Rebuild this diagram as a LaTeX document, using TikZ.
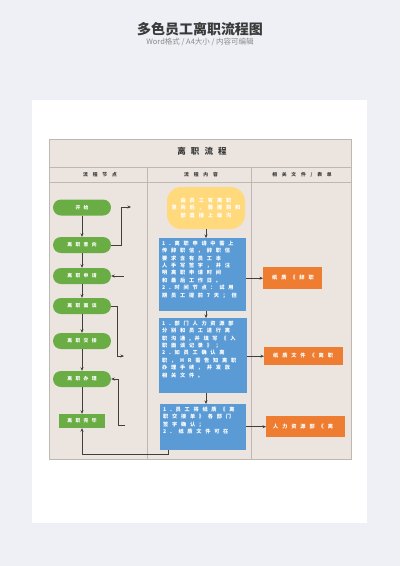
\documentclass[tikz,border=0pt]{standalone}
\usepackage{fontspec}
\setmainfont{Noto Sans CJK SC}
\newfontfamily\cjk{Noto Sans CJK SC}
\usetikzlibrary{arrows.meta}
\definecolor{bgc}{HTML}{EEF0F5}
\definecolor{tablec}{HTML}{ECE5DF}
\definecolor{tline}{HTML}{BDB8B3}
\definecolor{greenc}{HTML}{6AAD45}
\definecolor{bluec}{HTML}{5B9BD5}
\definecolor{orangec}{HTML}{EE7D31}
\definecolor{yellowc}{HTML}{FFD97C}
\definecolor{linec}{HTML}{3F3F3F}
\definecolor{titlec}{HTML}{3A3A3A}
\definecolor{subc}{HTML}{8A8A8A}
\begin{document}
\begin{tikzpicture}[x=1pt,y=-1pt,
  tableline/.style={draw=tline,line width=0.8pt},
  gnode/.style={fill=greenc,rounded corners=8pt,minimum width=58pt,minimum height=16pt,inner sep=0pt,text=white,
    font=\fontsize{4.8}{5}\selectfont\bfseries\addfontfeature{LetterSpace=70}},
  bbox/.style={fill=bluec,inner sep=0pt,anchor=north west},
  btext/.style={anchor=north west,inner sep=0pt,text=white,align=left,
    font=\fontsize{5.2}{7.4}\selectfont\bfseries\addfontfeature{LetterSpace=72}},
  obox/.style={fill=orangec,inner sep=0pt,anchor=north west},
  otext/.style={anchor=west,inner sep=0pt,text=white,
    font=\fontsize{5.2}{6}\selectfont\bfseries\addfontfeature{LetterSpace=75}},
  hdr/.style={inner sep=0pt,text=titlec,font=\fontsize{4.8}{5}\selectfont\bfseries\addfontfeature{LetterSpace=100}},
  conn/.style={draw=linec,line width=0.6pt,-{Stealth[length=3.5pt,width=3pt]}},
  dconn/.style={draw=linec,line width=0.6pt,dash pattern=on 1.2pt off 0.8pt,-{Stealth[length=3.5pt,width=3pt]}}
]
\useasboundingbox (0,0) rectangle (400,566);
\fill[bgc] (0,0) rectangle (400,566);
\fill[white] (32,100) rectangle (367,523);

% headings
\node[inner sep=0pt,text=titlec,font=\fontsize{14}{14}\selectfont\bfseries] (maintitle) at (200,29) {多色员工离职流程图};
\node[inner sep=0pt,text=subc,font=\fontsize{7.5}{8}\selectfont] (subtitle) at (200,42) {Word格式 / A4大小 / 内容可编辑};

% table
\fill[tablec] (49,139) rectangle (351,459);
\draw[tableline] (49,139) rectangle (351,459);
\draw[tableline] (49,167) -- (351,167);
\draw[tableline] (49,182) -- (351,182);
\draw[tableline] (147,167) -- (147,459);
\draw[tableline] (251,167) -- (251,459);
\node[inner sep=0pt,text=titlec,font=\fontsize{8.5}{9}\selectfont\bfseries\addfontfeature{LetterSpace=60}] (ttitle) at (202,151) {离职流程};
\node[hdr] (h1) at (100,175) {流程节点};
\node[hdr] (h2) at (201,175) {流程内容};
\node[hdr] (h3) at (302,175) {相关文件/表单};

% green nodes
\node[gnode] (start) at (82,207.5) {开始};
\node[gnode] (intent) at (82,245) {离职意向};
\node[gnode] (apply) at (82,276) {离职申请};
\node[gnode] (talk) at (82,306) {离职面谈};
\node[gnode] (handover) at (82,341) {离职交接};
\node[gnode] (proc) at (82,379) {离职办理};
\node[fill=greenc,minimum width=46pt,minimum height=14pt,inner sep=0pt,text=white,
  font=\fontsize{4.8}{5}\selectfont\bfseries\addfontfeature{LetterSpace=70}] (done) at (82,421) {离职完毕};

\draw[conn] (start) -- (intent);
\draw[conn] (intent) -- (apply);
\draw[conn] (apply) -- (talk);
\draw[conn] (talk) -- (handover);
\draw[conn] (handover) -- (proc);
\draw[conn] (proc) -- (done);

\coordinate (c1) at (131,207);
\coordinate (c2) at (124,276);
\coordinate (c3) at (124,356);
\coordinate (c4) at (125,425);
\draw[conn] (intent.east) -| (121,207) -- (c1);
\draw[conn] (c2) -- (apply.east);
\draw[conn] (talk.east) -| (117,356) -- (c3);
\draw[conn] (c4) -| (118,379) -- (proc.east);

% yellow
\node[fill=yellowc,rounded corners=14pt,minimum width=78pt,minimum height=42pt,inner sep=0pt] (yel) at (206,208) {};
\node[inner sep=0pt,text=white,align=center,font=\fontsize{5.2}{7.5}\selectfont\bfseries\addfontfeature{LetterSpace=75}] (yeltext) at (yel.center)
  {由员工有离职\\意向后，需提前和\\部直接上级沟};

% blue boxes
\node[bbox,minimum width=87pt,minimum height=73pt] (b1) at (159,238) {};
\node[bbox,minimum width=88pt,minimum height=75pt] (b2) at (159,318) {};
\node[bbox,minimum width=86pt,minimum height=46pt] (b3) at (160,404) {};
\begin{scope}
\clip (b1.north west) rectangle (b1.south east);
\node[btext] (b1t) at (162,240.5) {1.离职申请中需上\\传辞职信，辞职信\\要求含有员工本\\人手写签字，并注\\明离职申请时间\\和最后工作日。\\2.时间节点：试用\\期员工提前7天；但};
\end{scope}
\begin{scope}
\clip (b2.north west) rectangle (b2.south east);
\node[btext] (b2t) at (162,320.5) {1.部门人力资源部\\分别和员工进行离\\职沟通,并填写《入\\职面谈记录》；\\2.如员工确认离\\职，HR需告知离职\\办理手续，并发放\\相关文件。};
\end{scope}
\begin{scope}
\clip (b3.north west) rectangle (b3.south east);
\node[btext] (b3t) at (163,406.5) {1.员工将纸质《离\\职交接单》各部门\\签字确认；\\2. 纸质文件可在};
\end{scope}

\draw[conn] (yel.south) -- (yel.south |- b1.north);
\draw[conn] (yel.south |- b1.south) -- (yel.south |- b2.north);
\draw[conn] (yel.south |- b2.south) -- (yel.south |- b3.north);

% orange boxes
\node[obox,minimum width=59pt,minimum height=22pt] (o1) at (263,267) {};
\node[obox,minimum width=79pt,minimum height=18pt] (o2) at (264,347) {};
\node[obox,minimum width=79pt,minimum height=21pt] (o3) at (266,416) {};
\node[otext] (o1t) at (272,278) {纸质《辞职};
\node[otext] (o2t) at (273,356) {纸质文件《离职};
\node[otext] (o3t) at (273,426.5) {人力资源部《离};

\draw[dconn] (b1.east |- o1.west) -- (o1.west);
\draw[dconn] (b2.east |- o2.west) -- (o2.west);
\draw[dconn] (b3.east |- o3.west) -- (o3.west);

% bottom return
\coordinate (c5) at (168,454);
\draw[conn] (b3.south -| c5) -- (c5) -| (done.south);
\end{tikzpicture}
\end{document}
